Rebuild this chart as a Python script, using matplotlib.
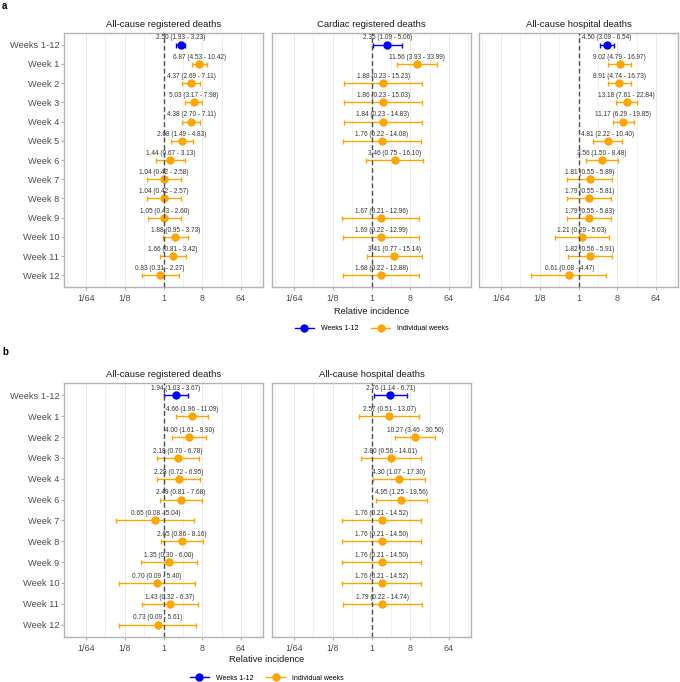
import matplotlib
matplotlib.use("Agg")
import matplotlib.pyplot as plt
from matplotlib.lines import Line2D
from matplotlib.ticker import NullFormatter
import numpy as np

plt.rcParams['font.family'] = ['Liberation Sans', 'DejaVu Sans']

# Row labels
weeks_a = ["Weeks 1-12", "Week 1", "Week 2", "Week 3", "Week 4", "Week 5", "Week 6",
           "Week 7", "Week 8", "Week 9", "Week 10", "Week 11", "Week 12"]
weeks_b = ["Weeks 1-12", "Week 1", "Week 2", "Week 3", "Week 4", "Week 6",
           "Week 7", "Week 8", "Week 9", "Week 10", "Week 11", "Week 12"]

# a: all-cause registered deaths
a_reg_est = [2.50, 6.87, 4.37, 5.03, 4.38, 2.68, 1.44, 1.04, 1.04, 1.05, 1.88, 1.66, 0.83]
a_reg_lo = [1.93, 4.53, 2.69, 3.17, 2.70, 1.49, 0.67, 0.42, 0.42, 0.43, 0.95, 0.81, 0.31]
a_reg_hi = [3.23, 10.42, 7.11, 7.98, 7.11, 4.83, 3.13, 2.58, 2.57, 2.60, 3.73, 3.42, 2.27]

# a: cardiac registered deaths (no estimate for weeks 7 and 8)
a_card_est = [2.35, 11.56, 1.88, 1.86, 1.84, 1.76, 3.46, None, None, 1.67, 1.69, 3.41, 1.68]
a_card_lo = [1.09, 3.93, 0.23, 0.23, 0.23, 0.22, 0.75, None, None, 0.21, 0.22, 0.77, 0.22]
a_card_hi = [5.06, 33.99, 15.23, 15.03, 14.83, 14.08, 16.10, None, None, 12.96, 12.99, 15.14, 12.88]

# a: all-cause hospital deaths
a_hosp_est = [4.50, 9.02, 8.91, 13.18, 11.17, 4.81, 3.56, 1.81, 1.79, 1.79, 1.21, 1.82, 0.61]
a_hosp_lo = [3.09, 4.79, 4.74, 7.61, 6.29, 2.22, 1.50, 0.55, 0.55, 0.55, 0.29, 0.56, 0.08]
a_hosp_hi = [6.54, 16.97, 16.73, 22.84, 19.85, 10.40, 8.48, 5.89, 5.81, 5.83, 5.03, 5.91, 4.47]

# b: all-cause registered deaths
b_reg_est = [1.94, 4.66, 4.00, 2.18, 2.28, 2.49, 0.65, 2.65, 1.35, 0.70, 1.43, 0.73]
b_reg_lo = [1.03, 1.96, 1.61, 0.70, 0.72, 0.81, 0.08, 0.86, 0.30, 0.09, 0.32, 0.09]
b_reg_hi = [3.67, 11.09, 9.90, 6.78, 6.95, 7.68, 5.04, 8.16, 6.00, 5.40, 6.37, 5.61]

# b: all-cause hospital deaths (no estimate for week 12)
b_hosp_est = [2.76, 2.57, 10.27, 2.80, 4.30, 4.95, 1.76, 1.76, 1.76, 1.76, 1.79, None]
b_hosp_lo = [1.14, 0.51, 3.46, 0.56, 1.07, 1.25, 0.21, 0.21, 0.21, 0.21, 0.22, None]
b_hosp_hi = [6.71, 13.07, 30.50, 14.01, 17.30, 19.56, 14.52, 14.50, 14.50, 14.52, 14.74, None]

x_ticks = [1/64, 1/8, 1, 8, 64]
x_ticklabels = ["1/64", "1/8", "1", "8", "64"]

BLUE = "#0000FF"
ORANGE = "#FFA500"
GRID = "#EBEBEB"
BORDER = "#B3B3B3"


def draw_panel(ax, labels, est, lo, hi, title, show_y):
    n = len(labels)
    ypos = np.arange(n)
    for i in range(n):
        if est[i] is None:
            continue
        col = BLUE if i == 0 else ORANGE
        ax.errorbar(est[i], ypos[i], xerr=[[est[i] - lo[i]], [hi[i] - est[i]]],
                    fmt='o', color=col, ms=5, elinewidth=1.0, capsize=1.8,
                    capthick=1.0, zorder=3)
        ax.annotate(f"{est[i]:.2f} ({lo[i]:.2f} - {hi[i]:.2f})", (est[i], ypos[i]),
                    xytext=(0, 4.8), textcoords='offset points', ha='center',
                    va='center', fontsize=4.7, color='#333333', zorder=4)
    ax.axvline(1, color='#4D4D4D', lw=1.0, dashes=(3.5, 2), zorder=5)

    ax.set_xscale('log', base=2)
    ax.set_xlim(2 ** -7.7, 2 ** 7.7)
    ax.set_xticks(x_ticks, x_ticklabels)
    ax.set_xticks([2 ** v for v in (-7.5, -4.5, -1.5, 1.5, 4.5, 7.5)], minor=True)
    ax.xaxis.set_minor_formatter(NullFormatter())
    ax.grid(axis='x', which='major', color=GRID, lw=0.7)
    ax.grid(axis='x', which='minor', color=GRID, lw=0.5)
    ax.set_axisbelow(True)

    ax.set_ylim(n - 1 + 0.6, -0.6)
    ax.set_yticks(ypos)
    if show_y:
        ax.set_yticklabels(labels)
        ax.tick_params(axis='y', length=2, color=BORDER, labelsize=6.7,
                       labelcolor='#4D4D4D', pad=1.5)
    else:
        ax.set_yticklabels([])
        ax.tick_params(axis='y', length=0)
    ax.tick_params(axis='x', which='major', length=2, color=BORDER, labelsize=6.5,
                   labelcolor='#4D4D4D', pad=3)
    ax.tick_params(axis='x', which='minor', length=0)
    for s in ax.spines.values():
        s.set_color(BORDER)
        s.set_linewidth(1.0)
    ax.set_title(title, fontsize=6.8, color='#1A1A1A', pad=4)


W, H = 680, 682
fig = plt.figure(figsize=(W / 100, H / 100), dpi=100)

col_left = [64, 272, 479]
col_w = 199


def add_ax(col, top, bottom):
    return fig.add_axes([col_left[col] / W, 1 - bottom / H, col_w / W, (bottom - top) / H])


# panel a
panels_a = [
    ("All-cause registered deaths", a_reg_est, a_reg_lo, a_reg_hi),
    ("Cardiac registered deaths", a_card_est, a_card_lo, a_card_hi),
    ("All-cause hospital deaths", a_hosp_est, a_hosp_lo, a_hosp_hi),
]
for k, (t, e, l, h) in enumerate(panels_a):
    ax = add_ax(k, 33, 287)
    draw_panel(ax, weeks_a, e, l, h, t, k == 0)

# panel b
panels_b = [
    ("All-cause registered deaths", b_reg_est, b_reg_lo, b_reg_hi),
    ("All-cause hospital deaths", b_hosp_est, b_hosp_lo, b_hosp_hi),
]
for k, (t, e, l, h) in enumerate(panels_b):
    ax = add_ax(k, 383, 637)
    draw_panel(ax, weeks_b, e, l, h, t, k == 0)

fig.text(372 / W, 1 - 311 / H, "Relative incidence", ha='center', va='center',
         fontsize=6.7, color='#1A1A1A')
fig.text(267 / W, 1 - 660 / H, "Relative incidence", ha='center', va='center',
         fontsize=6.7, color='#1A1A1A')

fig.text(2 / W, 1 - 1 / H, "a", ha='left', va='top', fontsize=7, fontweight='bold')
fig.text(2 / W, 1 - 347 / H, "b", ha='left', va='top', fontsize=7, fontweight='bold')

handles = [
    Line2D([], [], color=BLUE, marker='o', ms=5, lw=1.0),
    Line2D([], [], color=ORANGE, marker='o', ms=5, lw=1.0),
]
leg_labels = ["Weeks 1-12", "Individual weeks"]
for cx, cy in [(372, 329), (267, 678)]:
    fig.legend(handles, leg_labels, loc='center', bbox_to_anchor=(cx / W, 1 - cy / H),
               ncol=2, frameon=False, fontsize=5, handlelength=2.7,
               handletextpad=1.0, columnspacing=1.9, borderpad=0)

fig.savefig("out.png", dpi=100)
